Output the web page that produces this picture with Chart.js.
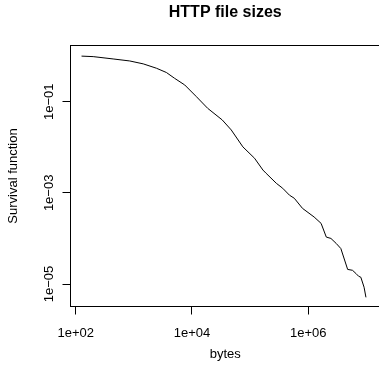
<!DOCTYPE html>
<html>
<head>
<meta charset="utf-8">
<title>HTTP file sizes</title>
<script src="https://cdn.jsdelivr.net/npm/chart.js@4/dist/chart.umd.min.js"></script>
<style>
  html, body { margin: 0; padding: 0; background: #fff; overflow: hidden; }
  #wrap { width: 400px; height: 373px; }
</style>
</head>
<body>
<div id="wrap"><canvas id="c" width="400" height="373"></canvas></div>
<script>
// Empirical survival function of HTTP file sizes (log-log)
const bytes = [126, 200, 440, 850, 1450, 2450, 3630, 5000, 7500, 11900, 18600, 33100, 47300,
  75000, 119000, 166000, 188000, 282000, 363000, 474000, 575000, 794000, 1260000, 1660000,
  2040000, 2450000, 3020000, 3630000, 4750000, 5750000, 6600000, 7330000, 8000000, 9100000, 9800000];
const survival = [1.0, 0.975, 0.867, 0.783, 0.676, 0.542, 0.437, 0.327, 0.233, 0.129, 0.0716, 0.0398,
  0.024, 0.0102, 0.00575, 0.00316, 0.00269, 0.00162, 0.00126, 0.00089, 0.00076, 0.000457, 0.000295,
  0.000214, 0.000107, 0.0001, 0.0000776, 0.00006, 0.0000209, 0.00002, 0.000017, 0.0000148,
  0.0000141, 0.0000085, 0.0000051];

const xTickValues = [1e2, 1e4, 1e6];
const xTickLabels = ['1e+02', '1e+04', '1e+06'];
const yTickValues = [1e-1, 1e-3, 1e-5];
const yTickLabels = ['1e\u221201', '1e\u221203', '1e\u221205'];

const chartTitle = 'HTTP file sizes';
const xTitle = 'bytes';
const yTitle = 'Survival function';

const FONT = '"Liberation Sans", Arial, Helvetica, sans-serif';

// Main title centred over the plotting region, plus the closed plot box
const framePlugin = {
  id: 'frame',
  afterDraw(chart) {
    const { ctx, chartArea: a } = chart;
    ctx.save();
    ctx.strokeStyle = '#000';
    ctx.lineWidth = 1;
    ctx.strokeRect(a.left, a.top, a.right - a.left, a.bottom - a.top);
    ctx.fillStyle = '#000';
    ctx.font = 'bold 16px ' + FONT;
    ctx.textAlign = 'center';
    ctx.textBaseline = 'middle';
    ctx.fillText(chartTitle, (a.left + a.right) / 2, 12.5);
    ctx.restore();
  }
};

function labelFor(values, labels) {
  return (v) => {
    const i = values.findIndex(t => Math.abs(Math.log10(t) - Math.log10(v)) < 1e-6);
    return i >= 0 ? labels[i] : '';
  };
}

new Chart(document.getElementById('c'), {
  type: 'scatter',
  data: {
    datasets: [{
      data: bytes.map((b, i) => ({ x: b, y: survival[i] })),
      showLine: true,
      borderColor: '#000',
      borderWidth: 1,
      pointRadius: 0,
      tension: 0,
      fill: false
    }]
  },
  plugins: [framePlugin],
  options: {
    responsive: false,
    animation: false,
    devicePixelRatio: 1,
    layout: { padding: { left: 0, right: 20, top: 45.5, bottom: 0 } },
    plugins: { legend: { display: false }, tooltip: { enabled: false }, title: { display: false } },
    scales: {
      x: {
        type: 'logarithmic',
        position: 'bottom',
        min: 81.4,
        max: 1.71e7,
        bounds: 'data',
        afterBuildTicks: s => { s.ticks = xTickValues.map(v => ({ value: v })); },
        afterFit: s => { s.height = 66.5; },
        grid: { drawOnChartArea: false, drawTicks: true, tickLength: 8, color: '#000', tickColor: '#000', lineWidth: 1 },
        border: { display: false },
        ticks: {
          autoSkip: false, maxRotation: 0, minRotation: 0, padding: 11,
          color: '#000', font: { family: FONT, size: 13 },
          callback: labelFor(xTickValues, xTickLabels)
        },
        title: {
          display: true, text: xTitle, color: '#000',
          font: { family: FONT, size: 13 }, padding: { top: 0, bottom: 11 }
        }
      },
      y: {
        type: 'logarithmic',
        position: 'left',
        min: 3.21e-6,
        max: 1.71,
        bounds: 'data',
        afterBuildTicks: s => { s.ticks = yTickValues.map(v => ({ value: v })); },
        afterFit: s => { s.width = 70.5; },
        grid: { drawOnChartArea: false, drawTicks: true, tickLength: 8, color: '#000', tickColor: '#000', lineWidth: 1 },
        border: { display: false },
        ticks: {
          autoSkip: false, minRotation: 90, maxRotation: 90, crossAlign: 'center', padding: -5.5,
          color: '#000', font: { family: FONT, size: 13 },
          callback: labelFor(yTickValues, yTickLabels)
        },
        title: {
          display: true, text: yTitle, color: '#000',
          font: { family: FONT, size: 13 }, padding: { top: 5.5, bottom: 0 }
        }
      }
    }
  }
});
</script>
</body>
</html>
